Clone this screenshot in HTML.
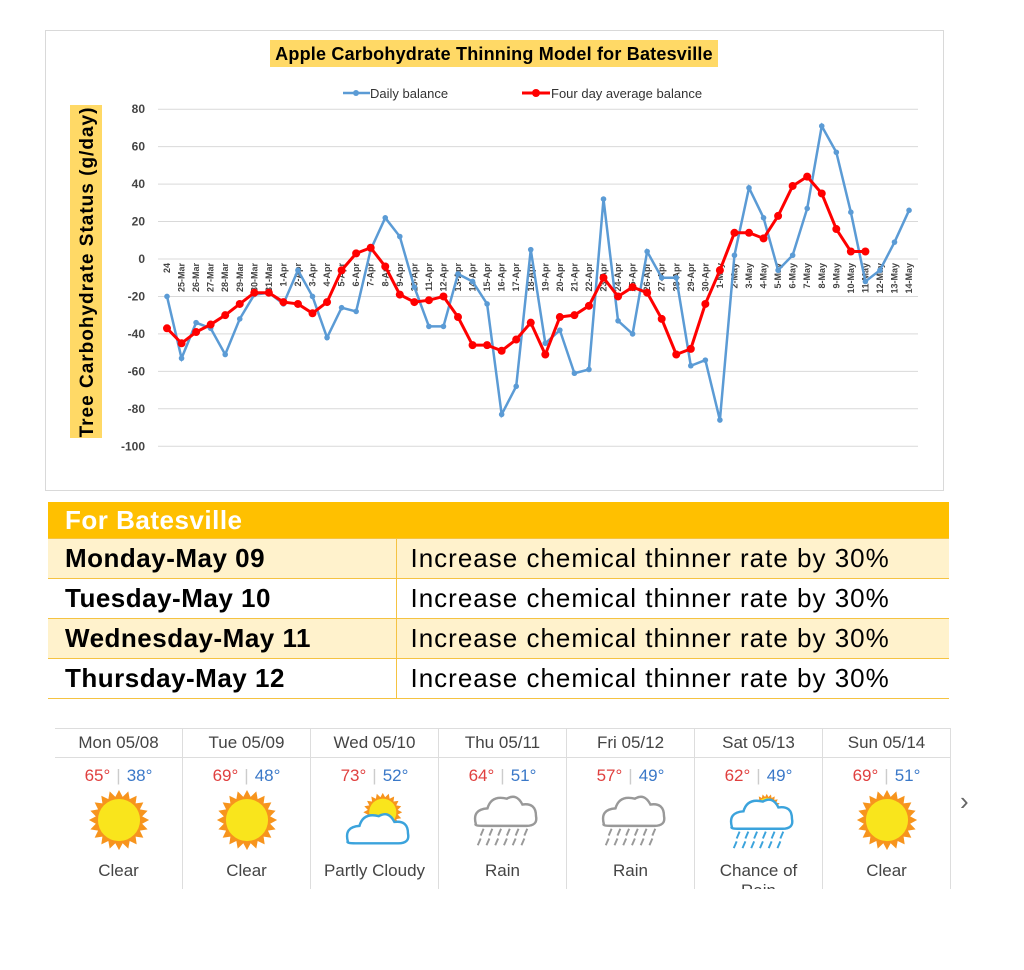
<!DOCTYPE html>
<html><head><meta charset="utf-8"><style>
body{margin:0;background:#fff;width:1024px;height:970px;overflow:hidden;font-family:"Liberation Sans",Arial,sans-serif;position:relative}
#chart{position:absolute;left:0;top:0}
table{position:absolute;left:48px;top:502px;width:901px;border-collapse:collapse;font-family:"Liberation Sans",sans-serif;table-layout:fixed}
td{height:39px;font-size:26px;padding:0 0 0 17px;border-bottom:1px solid #f5c342;white-space:nowrap;letter-spacing:0.5px;overflow:visible}
.h td{background:#ffc000;color:#fff;font-weight:bold;height:36px;font-size:26px}
.a td{background:#fff2cc}
td.l{font-weight:bold;border-right:1px solid #f5c342}
td.r{padding-left:14px;letter-spacing:1px}
#wx{position:absolute;left:55px;top:728px;width:896px;height:160px;overflow:hidden;border-top:1px solid #ddd}
.c{position:absolute;top:0;width:127px;height:160px;border-right:1px solid #ddd;text-align:center;color:#444}
.d{height:28px;line-height:28px;font-size:17px;border-bottom:1px solid #ddd}
.t{margin-top:8px;font-size:17px}.hi{color:#e0403f}.lo{color:#3a78c8}.sep{color:#ccc;margin:0 6px}
.ic{height:66px}
.n{font-size:17px;margin-top:2px}
</style></head><body>
<svg id="chart" width="1024" height="500"></svg>
<table>
<colgroup><col style="width:348px"><col style="width:553px"></colgroup>
<tr class="h"><td colspan="2">For Batesville</td></tr>
<tr class="a"><td class="l">Monday-May 09</td><td class="r">Increase chemical thinner rate by 30%</td></tr>
<tr><td class="l">Tuesday-May 10</td><td class="r">Increase chemical thinner rate by 30%</td></tr>
<tr class="a"><td class="l">Wednesday-May 11</td><td class="r">Increase chemical thinner rate by 30%</td></tr>
<tr><td class="l">Thursday-May 12</td><td class="r">Increase chemical thinner rate by 30%</td></tr>
</table>
<div id="wx"></div>
<div style="position:absolute;left:960px;top:786px;font-size:26px;color:#666">›</div>
<script>
let h='';
h+='<rect x="45.5" y="30.5" width="898" height="460" fill="#fff" stroke="#d9d9d9"/>';
h+='<rect x="270" y="40" width="448" height="27" fill="#ffd966"/>';
h+='<text x="494" y="60" text-anchor="middle" font-size="18" letter-spacing="0.2" font-weight="bold" fill="#000">Apple Carbohydrate Thinning Model for Batesville</text>';
h+='<line x1="343" y1="93" x2="370" y2="93" stroke="#5b9bd5" stroke-width="2.5"/><circle cx="356" cy="93" r="3" fill="#5b9bd5"/>';
h+='<text x="370" y="98" font-size="13" fill="#333">Daily balance</text>';
h+='<line x1="522" y1="93" x2="550" y2="93" stroke="#f00" stroke-width="3"/><circle cx="536" cy="93" r="4" fill="#f00"/>';
h+='<text x="551" y="98" font-size="13" fill="#333">Four day average balance</text>';
h+='<rect x="70" y="105" width="32" height="333" fill="#ffd966"/>';
h+='<text transform="translate(93,272) rotate(-90)" text-anchor="middle" font-size="19" letter-spacing="1" font-weight="bold">Tree Carbohydrate Status (g/day)</text>';
const Y=v=>259-v*1.8725;
for(let v=80;v>=-100;v-=20){const y=Y(v);h+=`<line x1="158" x2="918" y1="${y}" y2="${y}" stroke="#d9d9d9"/>`;h+=`<text x="145" y="${y+4}" text-anchor="end" font-size="12" font-weight="bold" fill="#444">${v}</text>`;}
const labs=['24'];for(let d=25;d<=31;d++)labs.push(d+'-Mar');for(let d=1;d<=30;d++)labs.push(d+'-Apr');for(let d=1;d<=14;d++)labs.push(d+'-May');
const X=i=>167+14.55*i;
labs.forEach((l,i)=>{h+=`<text transform="translate(${X(i)+3},263) rotate(-90)" text-anchor="end" font-size="9" font-weight="bold" fill="#444">${l}</text>`});
const b=[-20,-53,-34,-37,-51,-32,-19,-18,-24,-6,-20,-42,-26,-28,5,22,12,-15,-36,-36,-8,-12,-24,-83,-68,5,-45,-38,-61,-59,32,-33,-40,4,-10,-10,-57,-54,-86,2,38,22,-6,2,27,71,57,25,-12,-6,9,26];
const r=[-37,-45,-39,-35,-30,-24,-18,-18,-23,-24,-29,-23,-6,3,6,-4,-19,-23,-22,-20,-31,-46,-46,-49,-43,-34,-51,-31,-30,-25,-10,-20,-15,-18,-32,-51,-48,-24,-6,14,14,11,23,39,44,35,16,4,4];
h+=`<polyline fill="none" stroke="#5b9bd5" stroke-width="2.5" points="${b.map((v,i)=>X(i)+','+Y(v)).join(' ')}"/>`;
b.forEach((v,i)=>h+=`<circle cx="${X(i)}" cy="${Y(v)}" r="2.8" fill="#5b9bd5"/>`);
h+=`<polyline fill="none" stroke="#f00" stroke-width="3" points="${r.map((v,i)=>X(i)+','+Y(v)).join(' ')}"/>`;
r.forEach((v,i)=>h+=`<circle cx="${X(i)}" cy="${Y(v)}" r="4" fill="#f00"/>`);
document.getElementById('chart').innerHTML=h;
function sun(cx,cy,r){let p='';for(let i=0;i<40;i++){const a=i*Math.PI/20,rr=i%2?r*0.78:r;p+=(cx+rr*Math.cos(a))+','+(cy+rr*Math.sin(a))+' ';}return `<polygon points="${p}" fill="#f7941d"/><circle cx="${cx}" cy="${cy}" r="${r*0.7}" fill="#f9e51c"/>`;}
function cloud(f,s){return `<path d="M12 55 q-4-15 12-16 q4-14 20-10 q10-6 16 6 q14-2 14 12 q2 10-10 10 h-44 q-10 0-8-2z" fill="${f}" stroke="${s}" stroke-width="2.5"/>`;}
function rain(c){let s='';for(let k=0;k<2;k++)for(let j=0;j<6;j++){const x=20+j*9+k*-3,y=60+k*10;s+=`<line x1="${x}" y1="${y}" x2="${x-3}" y2="${y+7}" stroke="${c}" stroke-width="2"/>`;}return s;}
const days=[['Mon 05/08',65,38,'s','Clear'],['Tue 05/09',69,48,'s','Clear'],['Wed 05/10',73,52,'p','Partly Cloudy'],['Thu 05/11',64,51,'r','Rain'],['Fri 05/12',57,49,'r','Rain'],['Sat 05/13',62,49,'c','Chance of<br>Rain'],['Sun 05/14',69,51,'s','Clear']];
let w='';days.forEach((d,i)=>{let ic='';
if(d[3]=='s')ic=sun(40,33,31);
if(d[3]=='p')ic=sun(48,25,20)+cloud('#fff','#3ba3dc');
if(d[3]=='r')ic='<g transform="translate(0,-18)">'+cloud('#fff','#999')+rain('#999')+'</g>';
if(d[3]=='c')ic=sun(48,20,14)+'<g transform="translate(0,-15)">'+cloud('#fff','#3ba3dc')+rain('#3ba3dc')+'</g>';
w+=`<div class="c" style="left:${i*128}px"><div class="d">${d[0]}</div><div class="t"><span class="hi">${d[1]}°</span><span class="sep">|</span><span class="lo">${d[2]}°</span></div><svg class="ic" width="80" height="68" viewBox="0 0 80 68" style="margin-top:2px">${ic}</svg><div class="n">${d[4]}</div></div>`;});
document.getElementById('wx').innerHTML=w;
</script>
</body></html>
